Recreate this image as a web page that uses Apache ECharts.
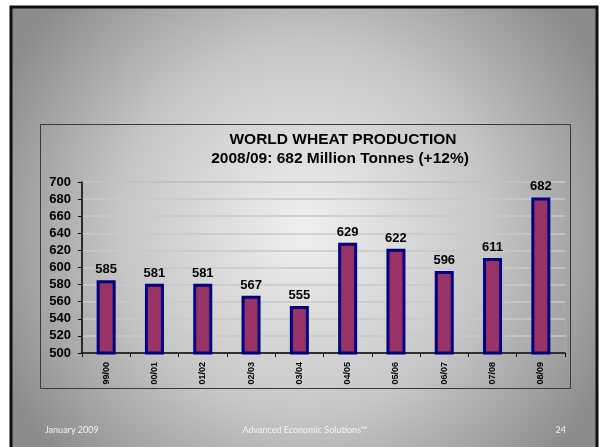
<!DOCTYPE html>
<html>
<head>
<meta charset="utf-8">
<script src="https://cdn.jsdelivr.net/npm/echarts@6/dist/echarts.min.js"></script>
<style>
html,body{margin:0;padding:0;background:#fff;}
#c{width:600px;height:447px;}
</style>
</head>
<body>
<div id="c"></div>
<script>
var categories = ['99/00','00/01','01/02','02/03','03/04','04/05','05/06','06/07','07/08','08/09'];
var production = [585, 581, 581, 567, 555, 629, 622, 596, 611, 682];
var yTicks = [500, 520, 540, 560, 580, 600, 620, 640, 660, 680, 700];
var titleLines = ['WORLD WHEAT PRODUCTION', '2008/09: 682 Million Tonnes (+12%)'];
var footerLeft = 'January 2009';
var footerCenter = 'Advanced Economic Solutions\u2122';
var footerRight = '24';

var chart = echarts.init(document.getElementById('c'), null, {renderer: 'canvas'});
var font = 'Liberation Sans, Arial, sans-serif';
var option = {
  backgroundColor: '#ffffff',
  animation: false,
  graphic: [
    {
      type: 'rect', z: -10, silent: true,
      shape: {x: 11, y: 7, width: 586, height: 445},
      style: {
        fill: {type: 'radial', x: 0.5, y: 0.5, r: 0.75,
          colorStops: [{offset: 0, color: '#f0f0f0'}, {offset: 0.55, color: '#c6c6c6'}, {offset: 1, color: '#8c8c8c'}]},
        stroke: '#111', lineWidth: 3
      }
    },
    {
      type: 'rect', z: -9, silent: true,
      shape: {x: 40.5, y: 124.5, width: 530, height: 264},
      style: {fill: 'transparent', stroke: '#3a3a3a', lineWidth: 1}
    },
    {
      type: 'text', z: 10,
      style: {text: titleLines[0], x: 343, y: 140, textAlign: 'center', textVerticalAlign: 'middle', font: 'bold 15.5px ' + font, fill: '#000'}
    },
    {
      type: 'text', z: 10,
      style: {text: titleLines[1], x: 340, y: 159, textAlign: 'center', textVerticalAlign: 'middle', font: 'bold 15.5px ' + font, fill: '#000'}
    },
    {
      type: 'text', z: 10,
      style: {text: footerLeft, x: 45, y: 430, textVerticalAlign: 'middle', font: '9px Lato, sans-serif', fill: '#f4f4f4'}
    },
    {
      type: 'text', z: 10,
      style: {text: footerCenter, x: 305, y: 430, textAlign: 'center', textVerticalAlign: 'middle', font: '9px Lato, sans-serif', fill: '#f4f4f4'}
    },
    {
      type: 'text', z: 10,
      style: {text: footerRight, x: 566, y: 430, textAlign: 'right', textVerticalAlign: 'middle', font: '9px Lato, sans-serif', fill: '#f4f4f4'}
    }
  ],
  grid: {left: 82, right: 35, top: 182, bottom: 94, show: true, borderColor: '#a8a8a8', borderWidth: 1.5, backgroundColor: 'transparent'},
  xAxis: {
    type: 'category', data: categories,
    axisLine: {show: true, lineStyle: {color: '#000', width: 1.5}},
    axisTick: {show: true, length: 4, alignWithLabel: false, lineStyle: {color: '#000'}},
    axisLabel: {rotate: 90, margin: 9, fontFamily: font, fontWeight: 'bold', fontSize: 9, color: '#000'}
  },
  yAxis: {
    type: 'value', min: yTicks[0], max: yTicks[yTicks.length - 1], interval: yTicks[1] - yTicks[0],
    axisLine: {show: true, lineStyle: {color: '#000', width: 1.5}},
    axisTick: {show: true, length: 4, lineStyle: {color: '#000'}},
    axisLabel: {margin: 11, fontFamily: font, fontWeight: 'bold', fontSize: 13, color: '#000'},
    splitLine: {show: true, lineStyle: {color: '#c8c8c8', width: 1.5}}
  },
  series: [{
    type: 'bar', data: production, barWidth: 19,
    itemStyle: {color: '#993366', borderColor: '#000080', borderWidth: 3},
    label: {show: true, position: 'top', distance: 4, fontFamily: font, fontWeight: 'bold', fontSize: 13, color: '#000'}
  }]
};
chart.setOption(option);
</script>
</body>
</html>
